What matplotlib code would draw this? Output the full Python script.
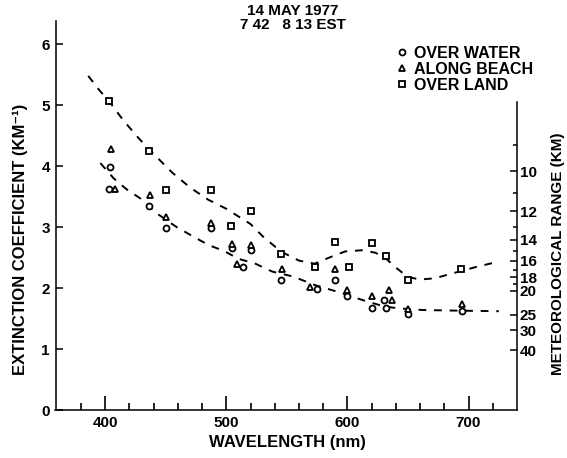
import matplotlib
matplotlib.use("Agg")
import matplotlib.pyplot as plt
from matplotlib.lines import Line2D
import numpy as np

plt.rcParams['font.family'] = ['Liberation Sans', 'DejaVu Sans']
plt.rcParams['font.weight'] = 'bold'

# ---- data ----
water_wl = [404, 403, 436, 450, 487, 505, 520, 514, 545, 575, 590, 600, 620, 630, 632, 650, 695]
water_val = [3.98, 3.63, 3.35, 2.98, 2.98, 2.65, 2.62, 2.34, 2.14, 1.99, 2.14, 1.87, 1.68, 1.80, 1.67, 1.57, 1.63]

beach_wl = [405, 408, 437, 450, 487, 505, 520, 509, 546, 569, 590, 600, 620, 634, 637, 650, 695]
beach_val = [4.28, 3.63, 3.52, 3.17, 3.07, 2.73, 2.70, 2.39, 2.31, 2.01, 2.31, 1.97, 1.87, 1.97, 1.80, 1.66, 1.74]

land_wl = [403, 436, 450, 487, 504, 520, 545, 573, 590, 601, 620, 632, 650, 694]
land_val = [5.07, 4.25, 3.61, 3.61, 3.02, 3.26, 2.56, 2.34, 2.75, 2.35, 2.74, 2.52, 2.13, 2.32]

upper_curve_wl = [386, 395, 403, 415, 428, 440, 455, 470, 485, 500, 512, 520, 530, 545, 560, 573,
                  585, 598, 612, 623, 632, 641, 650, 660, 672, 694, 707, 722]
upper_curve_val = [5.48, 5.25, 5.07, 4.75, 4.45, 4.20, 3.90, 3.65, 3.45, 3.30, 3.15, 3.05, 2.85, 2.60,
                   2.45, 2.40, 2.50, 2.60, 2.62, 2.58, 2.48, 2.32, 2.18, 2.14, 2.16, 2.28, 2.35, 2.42]

lower_curve_wl = [396, 407, 417, 429, 443, 459, 474, 486, 498, 510, 524, 538, 555, 573, 590, 613,
                  630, 641, 662, 690, 725]
lower_curve_val = [4.05, 3.80, 3.63, 3.47, 3.22, 3.00, 2.83, 2.70, 2.61, 2.48, 2.40, 2.27, 2.19, 2.05,
                   1.95, 1.80, 1.70, 1.67, 1.64, 1.63, 1.62]

y_ticks = [0, 1, 2, 3, 4, 5, 6]
x_major = [400, 500, 600, 700]
x_minor = [380, 420, 440, 460, 480, 520, 540, 560, 580, 620, 640, 660, 680, 720]
range_major = [10, 12, 14, 16, 18, 20, 25, 30, 40]
range_minor = [9, 11, 13, 15, 17, 19]

# ---- figure ----
fig = plt.figure(figsize=(5.67, 4.58), dpi=100)
ax = fig.add_axes([55.5 / 567, 48 / 458, (517 - 55.5) / 567, 389 / 458])
ax.set_xlim(359, 740)
ax.set_ylim(0, 6.38)

ax.spines['top'].set_visible(False)
ax.spines['right'].set_bounds(0, 5.05)
for s in ['left', 'right', 'bottom']:
    ax.spines[s].set_linewidth(1.1)

mk = dict(linestyle='none', markerfacecolor='white', markeredgecolor='black',
          markeredgewidth=1.3, markersize=4.3, zorder=3)
dash = dict(color='black', linewidth=1.4, dashes=(4, 4), zorder=2)

ax.plot(upper_curve_wl, upper_curve_val, **dash)
ax.plot(lower_curve_wl, lower_curve_val, **dash)
ax.plot(water_wl, water_val, marker='o', **mk)
ax.plot(beach_wl, beach_val, marker='^', **mk)
ax.plot(land_wl, land_val, marker='s', **mk)

ax.set_yticks(y_ticks)
ax.set_yticklabels([str(v) for v in y_ticks], fontsize=11, fontweight='bold')
ax.tick_params(axis='y', direction='in', length=5, width=1.1, pad=4, left=True, right=False)

ax.set_xticks(x_major)
ax.set_xticklabels([str(v) for v in x_major], fontsize=11, fontweight='bold')
ax.set_xticks(x_minor, minor=True)
ax.tick_params(axis='x', which='major', direction='in', length=10, width=1.2, pad=4)
ax.tick_params(axis='x', which='minor', direction='in', length=5, width=1.2)

# right axis: meteorological range
ax2 = ax.twinx()
ax2.set_ylim(ax.get_ylim())
for s in ['top', 'left', 'bottom', 'right']:
    ax2.spines[s].set_visible(False)
ax2.set_yticks([39.12 / v for v in range_major])
ax2.set_yticklabels([str(v) for v in range_major], fontsize=11, fontweight='bold')
ax2.set_yticks([39.12 / v for v in range_minor], minor=True)
ax2.tick_params(axis='y', which='major', direction='in', length=5, width=1.1, pad=2)
ax2.tick_params(axis='y', which='minor', direction='in', length=3, width=1.1)

# labels
fig.text(293 / 567, 1 - 11 / 458, "14 MAY 1977", ha='center', va='center', fontsize=11, fontweight='bold')
fig.text(293 / 567, 1 - 25 / 458, "7 42   8 13 EST", ha='center', va='center', fontsize=11, fontweight='bold')
fig.text(287 / 567, 1 - 443 / 458, "WAVELENGTH (nm)", ha='center', va='center', fontsize=12, fontweight='bold')
fig.text(20 / 567, 1 - 239 / 458, "EXTINCTION COEFFICIENT (KM\u207b\u00b9)", rotation=90,
         ha='center', va='center', fontsize=12, fontweight='bold')
fig.text(558 / 567, 1 - 254 / 458, "METEOROLOGICAL RANGE (KM)", rotation=90,
         ha='center', va='center', fontsize=11, fontweight='bold')

handles = [Line2D([], [], marker='o', **mk), Line2D([], [], marker='^', **mk),
           Line2D([], [], marker='s', **mk)]
labels = ["OVER WATER", "ALONG BEACH", "OVER LAND"]
leg = ax.legend(handles, labels, loc='upper left', bbox_to_anchor=(388 / 567, 1 - 38 / 458),
                bbox_transform=fig.transFigure, frameon=False, handlelength=0.7,
                handletextpad=0.45, labelspacing=0.05, borderpad=0,
                prop={'size': 11.5, 'weight': 'bold'})

fig.savefig("out.png", dpi=100)
